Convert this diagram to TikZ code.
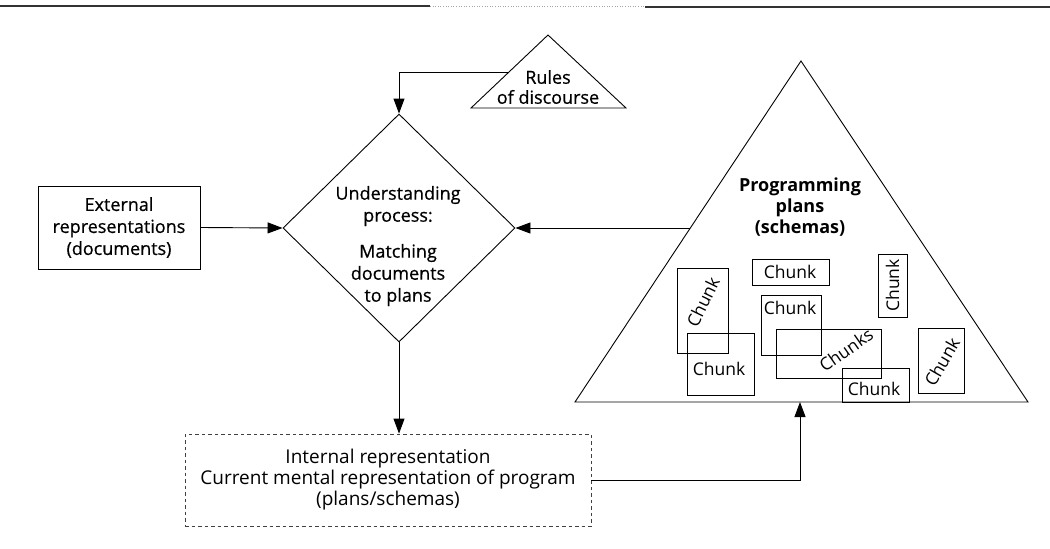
\documentclass[tikz,border=0pt]{standalone}
\usepackage{fontspec}
\setmainfont{Open Sans}
\newfontfamily\medfont[FakeBold=0.6]{Open Sans}
\usetikzlibrary{arrows.meta,shapes.geometric,calc}
\begin{document}
\begin{tikzpicture}[x=1pt,y=-1pt,line width=0.9pt,
  lbl/.style={font=\medfont\fontsize{18}{22}\selectfont, align=center, inner sep=0pt},
  chunkbox/.style={draw, inner sep=0pt, line width=1pt},
  chunktext/.style={font=\fontsize{17.5}{20}\selectfont, inner sep=0pt},
  arr/.style={-{Triangle[length=15pt,width=11pt]}},
  dashbox/.style={draw=black!75, line width=0.8pt, dash pattern=on 3.5pt off 3pt},
  rulestroke/.style={line width=1.4pt, black!80}
]
\useasboundingbox (0,0) rectangle (1050,549);

% top rule of the page
\draw[rulestroke] (0,6) -- (430,6);
\draw[line width=0.6pt, black!35, dotted] (430,6) -- (645,6);
\draw[rulestroke] (645,7) -- (1050,7);

% external representations
\node[draw, minimum width=162, minimum height=83, lbl] (ext) at (119,227.5)
  {External\\representations\\(documents)};

% understanding process diamond
\node[draw, diamond, minimum width=232, minimum height=228, inner sep=0pt] (dm) at (399,228) {};
\node[lbl] (dmt) at (398,246) {Understanding\\process:\\[14pt]Matching\\documents\\to plans};

% rules of discourse triangle
\coordinate (rapex) at (548,35);
\coordinate (rbr) at (626,108);
\coordinate (rbl) at (471,108);
\draw (rapex) -- (rbr) -- (rbl) -- cycle;
\node[lbl, font=\medfont\fontsize{18}{20}\selectfont] (rtext) at (548,87) {Rules\\of discourse};
\coordinate (rl) at (509,72);

% programming plans triangle
\coordinate (papex) at (801,61);
\coordinate (pbr) at (1028,402);
\coordinate (pbl) at (575,402);
\draw (papex) -- (pbr) -- (pbl) -- cycle;
\node[lbl, font=\bfseries\fontsize{18}{21}\selectfont] (pp) at (800,207) {Programming\\plans\\(schemas)};
\coordinate (pl) at (690,228);
\coordinate (pb) at (800,402);

% chunks
\node[chunkbox, minimum width=51, minimum height=85] (c1) at (702.5,310.5) {};
\node[chunkbox, minimum width=67, minimum height=62] (c2) at (720.5,364) {};
\node[chunkbox, minimum width=77, minimum height=26] (c3) at (790.5,272) {};
\node[chunkbox, minimum width=60, minimum height=60] (c4) at (791,325) {};
\node[chunkbox, minimum width=105, minimum height=49] (c5) at (828.5,353.5) {};
\node[chunkbox, minimum width=67, minimum height=34] (c6) at (875.5,385) {};
\node[chunkbox, minimum width=29, minimum height=63] (c7) at (892.5,285.5) {};
\node[chunkbox, minimum width=46, minimum height=65] (c8) at (941,360.5) {};

\node[chunktext, rotate=64] (t1) at (703,302) {Chunk};
\node[chunktext] (t2) at (719,369) {Chunk};
\node[chunktext] (t3) at (790,272) {Chunk};
\node[chunktext] (t4) at (790,308) {Chunk};
\node[chunktext, rotate=35] (t5) at (846,350) {Chunks};
\node[chunktext] (t6) at (874,389) {Chunk};
\node[chunktext, rotate=90] (t7) at (892.5,285.5) {Chunk};
\node[chunktext, rotate=60] (t8) at (942,362) {Chunk};

% internal representation
\node[dashbox, minimum width=406, minimum height=92, lbl, font=\fontsize{19}{21}\selectfont] (ir) at (388,480)
  {Internal representation\\Current mental representation of program\\(plans/schemas)};

% connectors
\draw[arr] (ext.east) -- (dm.west);
\draw[arr] (pl) -- (dm.east);
\draw[arr] (rl) -- (rl -| dm.north) -- (dm.north);
\draw[arr] (dm.south) -- (dm.south |- ir.north);
\draw[arr] (ir.east) -- (ir.east -| pb) -- (pb);
\end{tikzpicture}
\end{document}
